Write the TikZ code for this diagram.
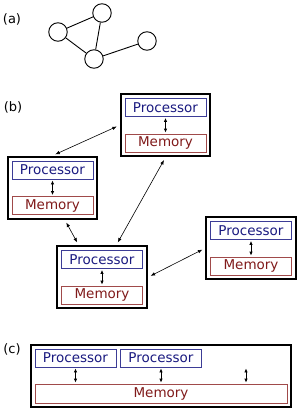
\documentclass[tikz,border=0pt]{standalone}
\usepackage{fontspec}
\setmainfont{DejaVu Sans}
\usetikzlibrary{arrows.meta,positioning,calc,fit}
\definecolor{procink}{HTML}{1A1A80}
\definecolor{procline}{HTML}{3C3C96}
\definecolor{memink}{HTML}{801A1A}
\definecolor{memline}{HTML}{A04A4A}
\tikzset{
  vertex/.style={circle,draw=black,line width=0.9pt,minimum size=18.5pt,inner sep=0pt},
  edge/.style={line width=0.9pt,draw=black},
  proc/.style={draw=procline,text=procink,line width=0.8pt,minimum width=81pt,
    minimum height=18pt,inner sep=0pt},
  mem/.style={draw=memline,text=memink,line width=0.8pt,minimum width=81pt,
    minimum height=18pt,inner sep=0pt},
  unit/.style={draw=black,line width=2pt,inner sep=4pt},
  link/.style={{Latex[length=4.5pt,width=3.5pt]}-{Latex[length=4.5pt,width=3.5pt]},line width=0.6pt,
    shorten <=3pt,shorten >=3pt},
  bus/.style={{Latex[length=4pt,width=3.5pt]}-{Latex[length=4pt,width=3.5pt]},line width=0.8pt,
    shorten <=1pt,shorten >=1pt},
  tag/.style={font=\fontsize{13}{15}\selectfont,inner sep=0pt},
}
\begin{document}
\begin{tikzpicture}[x=1pt,y=-1pt,font=\fontsize{13.5}{16}\selectfont]
    \useasboundingbox (0,0) rectangle (300,412);

    % (a) a plain graph
    \node[tag] (la) at (12,19) {(a)};
    \node[vertex] (g1) at (58,32) {};
    \node[vertex] (g2) at (102,13) {};
    \node[vertex] (g3) at (94,59) {};
    \node[vertex] (g4) at (147,41) {};
    \draw[edge] (g1) -- (g2);
    \draw[edge] (g1) -- (g3);
    \draw[edge] (g2) -- (g3);
    \draw[edge] (g3) -- (g4);

    % (b) distributed memory
    \node[tag] (lb) at (13,107) {(b)};
    \foreach \n/\x/\y in {t/165.5/107.5, l/52.5/170, c/102/259.5, r/251/230.5} {
      \node[proc] (p\n) at (\x,\y) {Processor};
      \node[mem] (m\n) at (\x,\y+35.5) {Memory};
      \draw[bus] (p\n.south) -- (m\n.north);
      \node[unit,fit=(p\n)(m\n)] (u\n) {};
    }
    \draw[link] (ul.north) -- (ut.west);
    \draw[link] (ul.-69) -- (uc.126);
    \draw[link] (ut.south) -- (uc.66);
    \draw[link] (uc.east) -- (ur.west);

    % (c) shared memory
    \node[tag] (lc) at (12,349) {(c)};
    \node[proc] (pa) at (75.5,358) {Processor};
    \node[proc] (pb) at (161,358) {Processor};
    \node[mem,minimum width=252pt,minimum height=19pt] (ms) at (161,393.5) {Memory};
    \coordinate (pc) at ($(pb.south)+(85,0)$);
    \draw[bus] (pa.south) -- (pa.south |- ms.north);
    \draw[bus] (pb.south) -- (pb.south |- ms.north);
    \draw[bus] (pc) -- (pc |- ms.north);
    \node[unit,fit=(pa)(ms)] (us) {};
  \end{tikzpicture}
\end{document}
